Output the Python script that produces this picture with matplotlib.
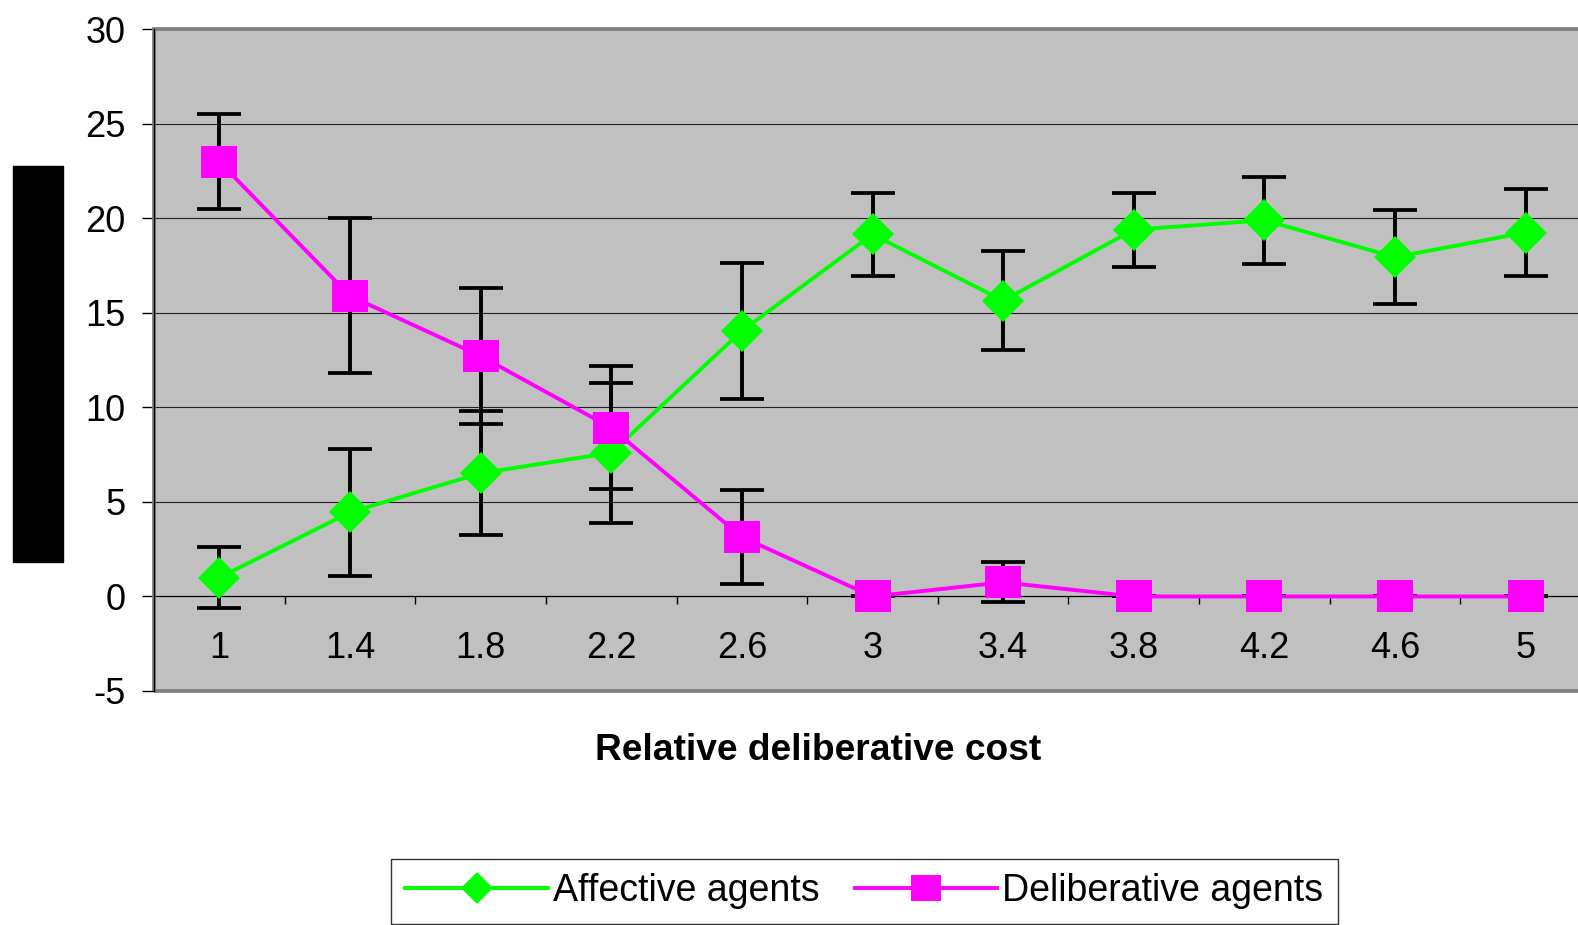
import numpy as np
from matplotlib import pyplot as plt
from matplotlib.patches import Rectangle
from matplotlib.ticker import FixedLocator

# relative deliberative cost (category axis)
cost_labels = ['1', '1.4', '1.8', '2.2', '2.6', '3', '3.4', '3.8', '4.2', '4.6', '5']

# mean number of agents + error bars
affective = [1.0, 4.45, 6.52, 7.6, 14.05, 19.15, 15.65, 19.4, 19.9, 17.95, 19.25]
affective_err = [1.6, 3.35, 3.27, 3.7, 3.6, 2.2, 2.6, 1.95, 2.3, 2.5, 2.3]
deliberative = [23.0, 15.9, 12.72, 8.92, 3.15, 0, 0.75, 0, 0, 0, 0]
deliberative_err = [2.5, 4.1, 3.58, 3.26, 2.5, 0, 1.05, 0, 0, 0, 0]

GREEN = '#00FF00'
MAGENTA = '#FF00FF'
PLOT_BG = '#C0C0C0'
BORDER = '#808080'
FONT = ['Liberation Sans', 'DejaVu Sans']

W, H = 1578, 925
fig = plt.figure(figsize=(W / 100, H / 100), dpi=100)
fig.patch.set_facecolor('white')

# plot area runs off the right edge like in the original
ax = fig.add_axes([154 / W, (H - 691) / H, 1437 / W, 661.7 / H])
ax.set_facecolor(PLOT_BG)

x = np.arange(len(cost_labels))

# error bars first, markers sit on top of them
ax.errorbar(x, affective, yerr=affective_err, fmt='none', ecolor='black',
            elinewidth=2.8, capsize=16, capthick=2.7, zorder=3)
ax.errorbar(x, deliberative, yerr=deliberative_err, fmt='none', ecolor='black',
            elinewidth=2.8, capsize=16, capthick=2.7, zorder=3)

rect_marker = [(-37, -32), (37, -32), (37, 32), (-37, 32), (-37, -32)]

ax.plot(x, affective, color=GREEN, lw=2.8, marker='D', ms=21,
        markerfacecolor=GREEN, markeredgewidth=0, zorder=4,
        label='Affective agents')
ax.plot(x, deliberative, color=MAGENTA, lw=2.8, marker=rect_marker, ms=26.6,
        markerfacecolor=MAGENTA, markeredgewidth=0, zorder=5,
        label='Deliberative agents')

ax.set_xlim(-0.5, len(cost_labels) - 0.5)
ax.set_ylim(-5, 30)

# y axis
ax.set_yticks(np.arange(-5, 31, 5))
ax.set_yticklabels([str(v) for v in range(-5, 31, 5)])
ax.tick_params(axis='y', direction='out', length=8.6, width=1, pad=12,
               labelsize=26, colors='black')
for v in range(5, 30, 5):
    ax.axhline(v, color='#202020', lw=0.8, zorder=1)

# category axis crossing at zero
ax.spines['bottom'].set_position(('data', 0))
ax.spines['bottom'].set_color('black')
ax.spines['bottom'].set_linewidth(0.9)
ax.spines['bottom'].set_zorder(2)
ax.set_xticks(x)
ax.set_xticklabels(cost_labels)
ax.xaxis.set_minor_locator(FixedLocator(np.arange(0.5, len(cost_labels) - 0.5, 1)))
ax.tick_params(axis='x', which='major', length=0, pad=25, labelsize=26)
ax.tick_params(axis='x', which='minor', direction='out', length=6, width=1)

ax.spines['top'].set_visible(False)
ax.spines['right'].set_visible(False)
ax.spines['left'].set_color('black')
ax.spines['left'].set_linewidth(1)

# gray plot-area border
ax.add_patch(Rectangle((0, 0), 1, 1, transform=ax.transAxes, fill=False,
                       edgecolor=BORDER, lw=2.7, clip_on=False, zorder=2.4))

fig.text(818 / W, 1 - 751 / H, 'Relative deliberative cost', ha='center',
         va='center', fontsize=26.7, fontweight='bold', family=FONT)

leg = fig.legend(loc='upper left', bbox_to_anchor=(391 / W, 1 - 859 / H),
                 ncol=2, frameon=True, fancybox=False, edgecolor='black',
                 handlelength=3.8, handletextpad=0.13, columnspacing=0.95,
                 borderpad=0.38, borderaxespad=0, markerscale=0.8,
                 prop={'family': FONT, 'size': 27})
leg.get_frame().set_linewidth(1)

for lab in ax.get_xticklabels() + ax.get_yticklabels():
    lab.set_family(FONT)

# redaction block over the y label
fig.patches.append(Rectangle((13.3 / W, 1 - 561.7 / H), 49.4 / W, 395.7 / H,
                             transform=fig.transFigure, color='black'))

fig.savefig('out.png', dpi=100)
